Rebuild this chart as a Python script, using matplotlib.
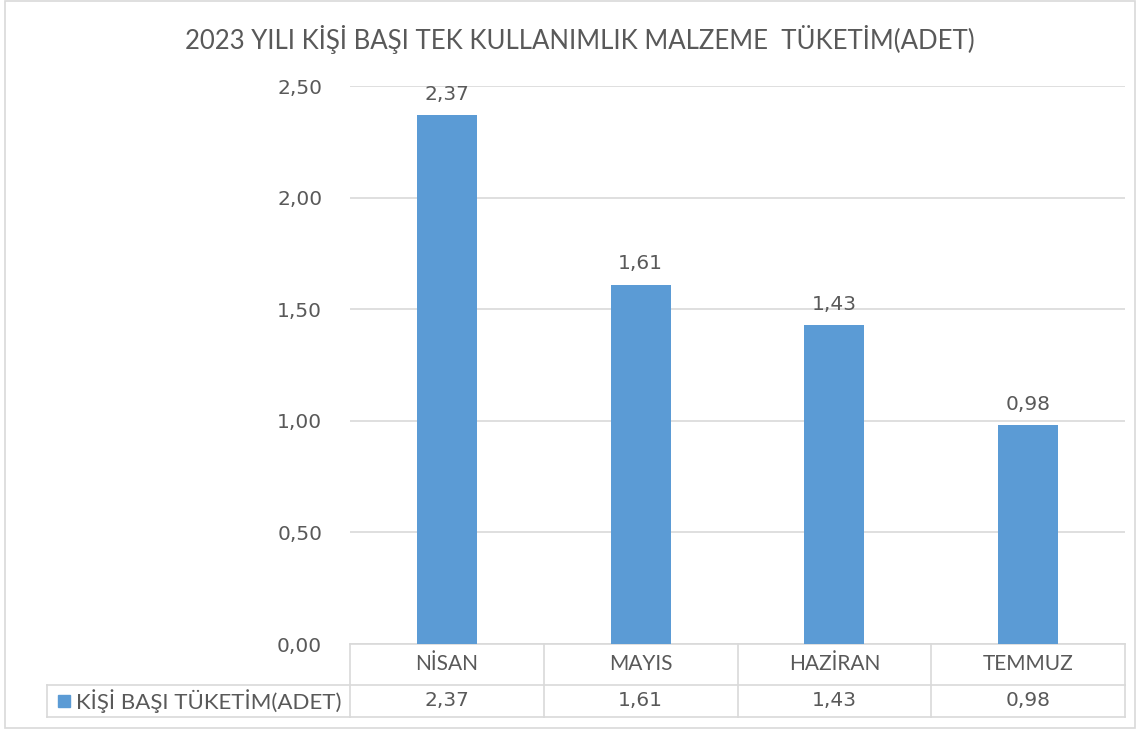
import matplotlib.pyplot as plt
from matplotlib.patches import Rectangle
from matplotlib.transforms import blended_transform_factory

months = ['NİSAN', 'MAYIS', 'HAZİRAN', 'TEMMUZ']
values = [2.37, 1.61, 1.43, 0.98]
series_name = 'KİŞİ BAŞI TÜKETİM(ADET)'
title = '2023 YILI KİŞİ BAŞI TEK KULLANIMLIK MALZEME  TÜKETİM(ADET)'
yticks = [0.0, 0.5, 1.0, 1.5, 2.0, 2.5]

BAR = '#5B9BD5'
TXT = '#595959'
GRID = '#D9D9D9'
NUMFONT = ['DejaVu Sans']

def fmt(v):
    return '{:.2f}'.format(v).replace('.', ',')

plt.rcParams['font.family'] = ['Lato', 'DejaVu Sans']

fig = plt.figure(figsize=(11.4, 7.29), dpi=100)
W, H = 1140, 729
# axes placed in pixel terms: left 350, right 1125, top 86, bottom 644
ax = fig.add_axes([350 / W, 1 - 644 / H, 775 / W, (644 - 86) / H])

x = range(len(months))
ax.bar(x, values, width=0.31, color=BAR, zorder=3)
for i, v in enumerate(values):
    ax.text(i, v + 0.05, fmt(v), ha='center', va='bottom', fontsize=14.5, color=TXT,
            family=NUMFONT)

ax.set_xlim(-0.5, len(months) - 0.5)
ax.set_ylim(0, 2.5)
ax.set_yticks(yticks)
ax.set_yticklabels([fmt(t) for t in yticks], fontsize=14.5, color=TXT, family=NUMFONT)
ax.tick_params(axis='y', length=0, pad=20)
ax.set_xticks([])
ax.grid(axis='y', color=GRID, linewidth=1.2, zorder=0)
for s in ['top', 'right', 'left']:
    ax.spines[s].set_visible(False)
ax.spines['bottom'].set_color(GRID)
ax.spines['bottom'].set_linewidth(1.2)

# data table under the axes
tr = blended_transform_factory(ax.transData, fig.transFigure)
row1 = 1 - 685 / H
row2 = 1 - 717 / H
top = 1 - 644 / H
left_cell = (47 / W - ax.get_position().x0) / ax.get_position().width * len(months) - 0.5
lw = 1.2
ax.plot([left_cell, len(months) - 0.5], [row1, row1], color=GRID, lw=lw, transform=tr, clip_on=False)
ax.plot([left_cell, len(months) - 0.5], [row2, row2], color=GRID, lw=lw, transform=tr, clip_on=False)
ax.plot([left_cell, left_cell], [row1, row2], color=GRID, lw=lw, transform=tr, clip_on=False)
for b in range(len(months) + 1):
    ax.plot([b - 0.5, b - 0.5], [top, row2], color=GRID, lw=lw, transform=tr, clip_on=False)
for i, (m, v) in enumerate(zip(months, values)):
    ax.text(i, (top + row1) / 2, m, ha='center', va='center', fontsize=15, color=TXT,
            transform=tr)
    ax.text(i, (row1 + row2) / 2, fmt(v), ha='center', va='center', fontsize=14.5, color=TXT,
            transform=tr, family=NUMFONT)
fig.patches.append(Rectangle((58 / W, (row1 + row2) / 2 - 6 / H), 12 / W, 12 / H,
                             transform=fig.transFigure, color=BAR))
fig.text(76 / W, (row1 + row2) / 2, series_name, ha='left', va='center', fontsize=16, color=TXT)

fig.text(580 / W, 1 - 40 / H, title, ha='center', va='center', fontsize=18.5, color=TXT)

# chart border
fig.patches.append(Rectangle((5 / W, 1 / H), 1130 / W, 727 / H, transform=fig.transFigure,
                             fill=False, edgecolor=GRID, lw=1.2))

fig.savefig('out.png', dpi=100)
